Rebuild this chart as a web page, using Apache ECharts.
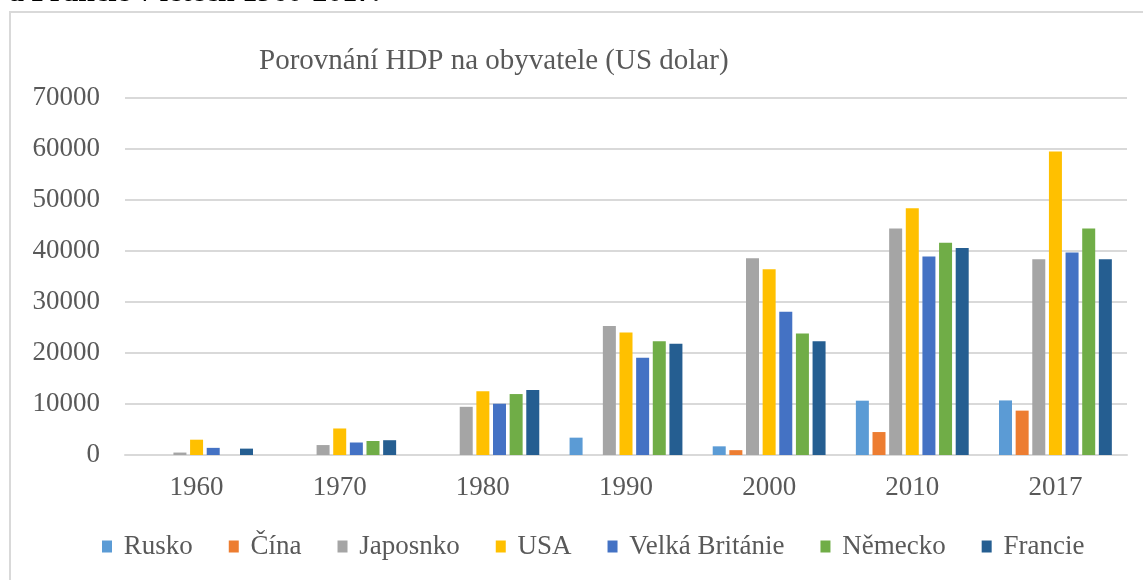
<!DOCTYPE html>
<html>
<head>
<meta charset="utf-8">
<script src="https://cdn.jsdelivr.net/npm/echarts@6/dist/echarts.min.js"></script>
<style>
  html, body { margin: 0; padding: 0; background: #fff; }
  #chart { width: 1143px; height: 580px; }
</style>
</head>
<body>
<div id="chart"></div>
<script>
const years = ['1960', '1970', '1980', '1990', '2000', '2010', '2017'];
const seriesNames = ['Rusko', 'Čína', 'Japosnko', 'USA', 'Velká Británie', 'Německo', 'Francie'];
const rusko   = [null, null, null, 3400, 1700, 10650, 10700];
const cina    = [null, null, null, null, 950, 4500, 8700];
const japonsko = [480, 1950, 9450, 25300, 38600, 44400, 38400];
const usa     = [3000, 5200, 12500, 24000, 36400, 48400, 59500];
const vb      = [1400, 2450, 10050, 19050, 28100, 38900, 39700];
const nemecko = [null, 2750, 11950, 22300, 23800, 41600, 44400];
const francie = [1250, 2900, 12750, 21800, 22300, 40600, 38400];
const yTicks = { min: 0, max: 70000, interval: 10000 };
const colors = ['#5B9BD5', '#ED7D31', '#A5A5A5', '#FFC000', '#4472C4', '#70AD47', '#255E91'];

const dataSets = [rusko, cina, japonsko, usa, vb, nemecko, francie];
const FONT = "'Liberation Serif', 'Times New Roman', serif";
const TXT = '#595959';

const chart = echarts.init(document.getElementById('chart'), null, { renderer: 'canvas' });
chart.setOption({
  animation: false,
  backgroundColor: '#ffffff',
  color: colors,
  textStyle: { fontFamily: FONT },
  graphic: [
    {
      type: 'text', left: 9, top: -22, z: 1,
      style: { text: 'a Francie v letech 1960-2017.', font: "bold 30px 'Liberation Serif', serif", fill: '#000' }
    },
    {
      type: 'rect', z: 2, silent: true,
      shape: { x: 10, y: 12, width: 1200, height: 700 },
      style: { fill: 'none', stroke: '#D9D9D9', lineWidth: 2 }
    }
  ],
  title: {
    text: 'Porovnání HDP na obyvatele (US dolar)',
    left: 254, top: 42,
    textStyle: { fontFamily: FONT, fontSize: 29, fontWeight: 'normal', color: TXT }
  },
  grid: { left: 125, right: 16, top: 98, bottom: 125, containLabel: false },
  legend: {
    left: 97, top: 528,
    itemWidth: 10, itemHeight: 12, itemGap: 36,
    icon: 'rect',
    formatter: ' {name}',
    textStyle: { fontFamily: FONT, fontSize: 27, color: TXT },
    data: seriesNames
  },
  xAxis: {
    type: 'category',
    data: years,
    axisLine: { lineStyle: { color: '#D9D9D9', width: 2 } },
    axisTick: { show: false },
    axisLabel: { margin: 19, fontFamily: FONT, fontSize: 27, color: TXT }
  },
  yAxis: {
    type: 'value',
    min: yTicks.min, max: yTicks.max, interval: yTicks.interval,
    axisLine: { show: false },
    axisTick: { show: false },
    splitLine: { lineStyle: { color: '#D9D9D9', width: 2 } },
    axisLabel: { margin: 25, fontFamily: FONT, fontSize: 27, color: TXT, formatter: v => String(v) }
  },
  series: seriesNames.map((name, i) => ({
    name: name,
    type: 'bar',
    data: dataSets[i],
    barWidth: 13,
    barGap: '28%',
    itemStyle: { color: colors[i] }
  }))
});
</script>
</body>
</html>
